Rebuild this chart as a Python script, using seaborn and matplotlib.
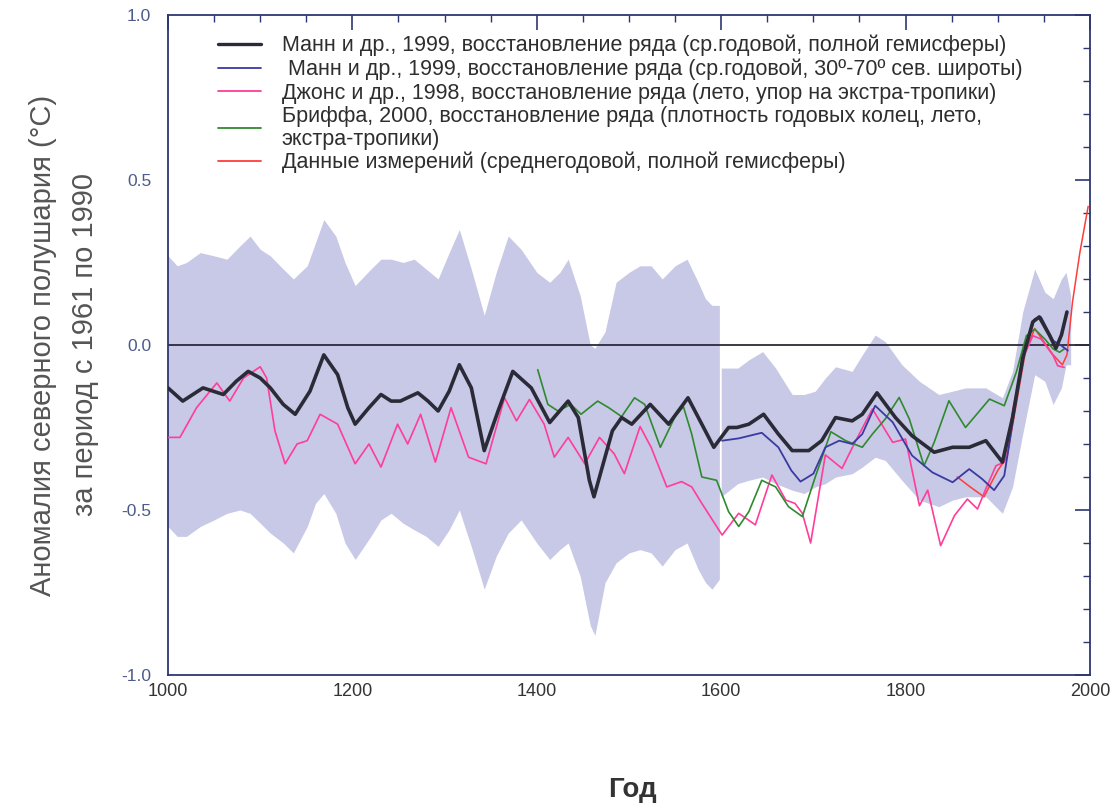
import matplotlib
matplotlib.use("Agg")
import matplotlib.pyplot as plt
import seaborn as sns
import numpy as np
import pandas as pd
from matplotlib.ticker import MultipleLocator
from matplotlib.lines import Line2D

# --- data ---
mann_nh_years = [1000, 1016, 1038, 1049, 1060, 1074, 1087, 1100, 1111, 1125, 1138, 1154, 1169, 1184,
                 1195, 1203, 1218, 1231, 1242, 1252, 1271, 1282, 1293, 1305, 1316, 1329, 1343, 1358,
                 1374, 1394, 1414, 1434, 1445, 1457, 1462, 1470, 1482, 1492, 1503, 1523, 1543, 1564,
                 1579, 1592, 1608, 1617, 1630, 1646, 1662, 1677, 1695, 1709, 1724, 1742, 1753, 1769,
                 1789, 1807, 1831, 1851, 1869, 1887, 1905, 1916, 1927, 1938, 1945, 1956, 1963, 1969, 1975]
mann_nh_vals = [-0.13, -0.17, -0.13, -0.14, -0.15, -0.11, -0.08, -0.10, -0.13, -0.18, -0.21, -0.14, -0.03, -0.09,
                -0.19, -0.24, -0.19, -0.15, -0.17, -0.17, -0.145, -0.17, -0.20, -0.14, -0.06, -0.13, -0.32, -0.20,
                -0.08, -0.13, -0.235, -0.17, -0.22, -0.41, -0.46, -0.38, -0.26, -0.22, -0.24, -0.18, -0.24, -0.16,
                -0.24, -0.31, -0.25, -0.25, -0.24, -0.21, -0.27, -0.32, -0.32, -0.29, -0.22, -0.23, -0.21, -0.145,
                -0.22, -0.275, -0.325, -0.31, -0.31, -0.29, -0.355, -0.22, -0.04, 0.07, 0.085, 0.03, -0.01, 0.03, 0.10]

mann_ext_years = [1601, 1619, 1644, 1662, 1676, 1686, 1700, 1713, 1728, 1742, 1753, 1767, 1786, 1807,
                  1829, 1851, 1869, 1883, 1896, 1907, 1920, 1931, 1940, 1947, 1960, 1969, 1976]
mann_ext_vals = [-0.29, -0.283, -0.266, -0.31, -0.38, -0.414, -0.39, -0.31, -0.29, -0.30, -0.27, -0.184, -0.234, -0.335,
                 -0.386, -0.416, -0.376, -0.406, -0.44, -0.396, -0.164, 0.008, 0.079, 0.084, 0.013, -0.002, -0.017]

jones_years = [1000, 1013, 1031, 1053, 1067, 1082, 1100, 1107, 1116, 1127, 1140, 1151, 1165, 1184, 1203,
               1218, 1231, 1249, 1260, 1274, 1290, 1307, 1326, 1345, 1365, 1378, 1392, 1408, 1419, 1434,
               1452, 1468, 1484, 1495, 1512, 1524, 1541, 1557, 1568, 1579, 1601, 1619, 1637, 1655, 1670,
               1680, 1688, 1697, 1713, 1731, 1746, 1764, 1786, 1800, 1815, 1824, 1838, 1853, 1867, 1878,
               1887, 1898, 1907, 1916, 1927, 1938, 1947, 1960, 1965, 1972]
jones_vals = [-0.28, -0.28, -0.19, -0.115, -0.17, -0.10, -0.066, -0.10, -0.26, -0.36, -0.30, -0.29, -0.21, -0.24, -0.36,
              -0.30, -0.37, -0.24, -0.30, -0.21, -0.355, -0.19, -0.34, -0.36, -0.16, -0.23, -0.165, -0.24, -0.34, -0.28,
              -0.36, -0.28, -0.33, -0.39, -0.247, -0.31, -0.43, -0.414, -0.43, -0.48, -0.576, -0.51, -0.545, -0.394, -0.47,
              -0.48, -0.51, -0.60, -0.333, -0.374, -0.29, -0.194, -0.295, -0.285, -0.487, -0.44, -0.608, -0.517, -0.467, -0.497,
              -0.436, -0.366, -0.355, -0.204, -0.042, 0.028, 0.018, -0.032, -0.063, -0.068]

briffa_years = [1401, 1412, 1423, 1437, 1448, 1466, 1478, 1492, 1506, 1517, 1534, 1550, 1559, 1568, 1579,
                1595, 1608, 1619, 1630, 1644, 1659, 1673, 1688, 1702, 1719, 1735, 1753, 1764, 1778, 1793,
                1804, 1820, 1831, 1847, 1865, 1891, 1907, 1920, 1931, 1940, 1951, 1960, 1967, 1972]
briffa_vals = [-0.075, -0.18, -0.20, -0.18, -0.21, -0.17, -0.19, -0.217, -0.16, -0.18, -0.31, -0.217, -0.187, -0.27, -0.40,
               -0.41, -0.505, -0.55, -0.505, -0.41, -0.43, -0.49, -0.52, -0.40, -0.263, -0.29, -0.31, -0.27, -0.224, -0.159,
               -0.224, -0.366, -0.295, -0.169, -0.25, -0.164, -0.184, -0.083, 0.028, 0.048, 0.018, -0.012, -0.022, -0.012]

obs_years = [1856, 1870, 1885, 1900, 1910, 1920, 1930, 1940, 1950, 1960, 1970, 1975, 1981, 1989, 1998]
obs_vals = [-0.40, -0.43, -0.46, -0.38, -0.34, -0.18, -0.02, 0.05, 0.01, -0.03, -0.06, -0.03, 0.13, 0.28, 0.42]

# uncertainty band, two pieces (break at 1600)
band1_years = [1000, 1010, 1020, 1035, 1050, 1064, 1078, 1089, 1100, 1111, 1125, 1136, 1151, 1160, 1169,
               1182, 1192, 1203, 1220, 1231, 1242, 1255, 1267, 1280, 1293, 1305, 1316, 1330, 1343, 1356,
               1369, 1383, 1400, 1414, 1425, 1434, 1447, 1458, 1463, 1474, 1486, 1500, 1512, 1524, 1536,
               1550, 1563, 1575, 1583, 1590, 1598]
band1_upper = [0.27, 0.24, 0.25, 0.28, 0.27, 0.26, 0.30, 0.33, 0.29, 0.27, 0.23, 0.20, 0.24, 0.31, 0.38,
               0.33, 0.25, 0.18, 0.23, 0.26, 0.26, 0.25, 0.26, 0.23, 0.20, 0.28, 0.35, 0.22, 0.09, 0.22,
               0.33, 0.29, 0.22, 0.19, 0.22, 0.26, 0.15, 0.00, -0.01, 0.04, 0.19, 0.22, 0.24, 0.24, 0.20,
               0.24, 0.26, 0.19, 0.14, 0.12, 0.12]
band1_lower = [-0.55, -0.58, -0.58, -0.55, -0.53, -0.51, -0.50, -0.51, -0.54, -0.57, -0.60, -0.63, -0.55, -0.48, -0.45,
               -0.51, -0.60, -0.65, -0.58, -0.53, -0.51, -0.54, -0.56, -0.58, -0.61, -0.56, -0.50, -0.62, -0.74, -0.64,
               -0.57, -0.53, -0.60, -0.65, -0.62, -0.60, -0.70, -0.85, -0.88, -0.72, -0.66, -0.63, -0.62, -0.63, -0.67,
               -0.62, -0.60, -0.68, -0.72, -0.74, -0.71]

band2_years = [1600, 1618, 1630, 1645, 1659, 1677, 1690, 1702, 1713, 1724, 1742, 1753, 1767, 1778, 1796,
               1815, 1836, 1851, 1865, 1887, 1905, 1916, 1927, 1940, 1951, 1960, 1969, 1974, 1979]
band2_upper = [-0.07, -0.07, -0.045, -0.02, -0.07, -0.15, -0.15, -0.14, -0.10, -0.066, -0.08, -0.03, 0.03, 0.01, -0.06,
               -0.11, -0.15, -0.14, -0.13, -0.13, -0.16, -0.08, 0.10, 0.23, 0.16, 0.14, 0.20, 0.22, 0.15]
band2_lower = [-0.46, -0.42, -0.41, -0.40, -0.42, -0.44, -0.45, -0.43, -0.42, -0.40, -0.39, -0.37, -0.34, -0.35, -0.41,
               -0.47, -0.49, -0.47, -0.46, -0.46, -0.51, -0.43, -0.27, -0.09, -0.11, -0.18, -0.13, -0.06, -0.06]

labels = [
    "Манн и др., 1999, восстановление ряда (ср.годовой, полной гемисферы)",
    " Манн и др., 1999, восстановление ряда (ср.годовой, 30º-70º сев. широты)",
    "Джонс и др., 1998, восстановление ряда (лето, упор на экстра-тропики)",
    "Бриффа, 2000, восстановление ряда (плотность годовых колец, лето,\nэкстра-тропики)",
    "Данные измерений (среднегодовой, полной гемисферы)",
]
colors = ["#2b2b38", "#3a3aa0", "#ff3d9a", "#2f8a2f", "#ff3b3b"]

sns.set_theme(style="white")
plt.rcParams["font.family"] = ["Liberation Sans", "DejaVu Sans"]
plt.rcParams["axes.unicode_minus"] = False

fig = plt.figure(figsize=(11.11, 8.05), dpi=100)
ax = fig.add_axes([0.1512, 0.1615, 0.8299, 0.8199])

band_col = "#c8c8e7"
ax.fill_between(band1_years, band1_lower, band1_upper, color=band_col, lw=0, zorder=1)
ax.fill_between(band2_years, band2_lower, band2_upper, color=band_col, lw=0, zorder=1)
ax.axhline(0, color="#2a2a3a", lw=1.3, zorder=2)

sns.lineplot(x=obs_years, y=obs_vals, color=colors[4], lw=1.1, ax=ax, zorder=3)
sns.lineplot(x=jones_years, y=jones_vals, color=colors[2], lw=1.2, ax=ax, zorder=3)
sns.lineplot(x=briffa_years, y=briffa_vals, color=colors[3], lw=1.2, ax=ax, zorder=4)
sns.lineplot(x=mann_ext_years, y=mann_ext_vals, color=colors[1], lw=1.3, ax=ax, zorder=5)
sns.lineplot(x=mann_nh_years, y=mann_nh_vals, color=colors[0], lw=2.6, ax=ax, zorder=6)

ax.set_xlim(1000, 2000)
ax.set_ylim(-1.0, 1.0)
ax.xaxis.set_major_locator(MultipleLocator(200))
ax.xaxis.set_minor_locator(MultipleLocator(50))
ax.yaxis.set_major_locator(MultipleLocator(0.5))
ax.yaxis.set_minor_locator(MultipleLocator(0.1))
ax.yaxis.set_major_formatter(matplotlib.ticker.FormatStrFormatter("%.1f"))

spine_col = "#2e3672"
for s in ax.spines.values():
    s.set_color(spine_col)
    s.set_linewidth(1.3)
ax.tick_params(which="both", direction="in", top=True, right=True, color=spine_col)
ax.tick_params(which="major", length=11, width=1.2)
ax.tick_params(which="minor", length=5, width=1.0)
ax.tick_params(axis="y", labelsize=12.5, labelcolor="#4d5b8c", pad=12)
ax.tick_params(axis="x", labelsize=13, labelcolor="#333333", pad=6)

handles = [Line2D([], [], color=colors[0], lw=2.4),
           Line2D([], [], color=colors[1], lw=1.3),
           Line2D([], [], color=colors[2], lw=1.3),
           Line2D([], [], color=colors[3], lw=1.3),
           Line2D([], [], color=colors[4], lw=1.3)]
leg = ax.legend(handles, labels, loc="upper left", bbox_to_anchor=(0.045, 0.983),
                frameon=False, fontsize=15.5, handlelength=2.0, handletextpad=0.95,
                labelspacing=0.11, borderaxespad=0)
for t in leg.get_texts():
    t.set_color("#2e2e2e")
    t.set_linespacing(1.1)

ax.set_ylabel("Аномалия северного полушария (°C)\nза период с 1961 по 1990",
              fontsize=21, color="#555555", linespacing=1.65)
ax.yaxis.set_label_coords(-0.075, 0.5)

fig.text(0.569, 1 - 790 / 805, "Год", ha="center", va="center", fontsize=20,
         color="#333333", fontweight="bold")

fig.savefig("out.png", dpi=100, facecolor="white")
